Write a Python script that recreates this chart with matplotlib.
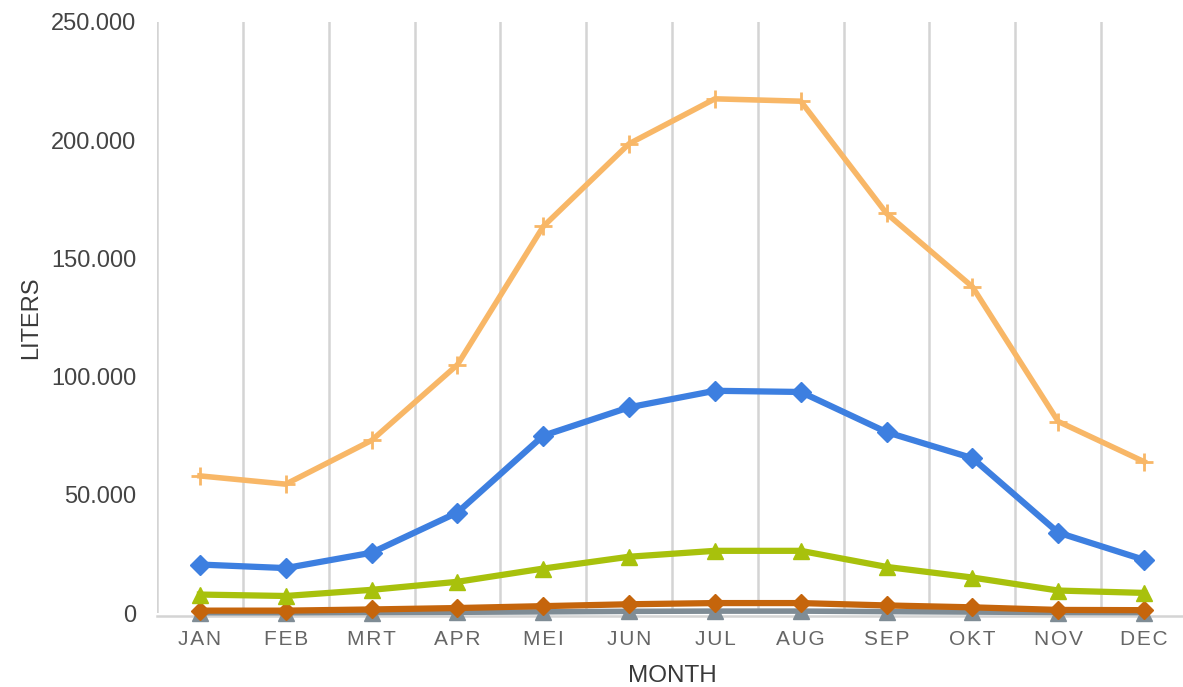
import numpy as np
import matplotlib.pyplot as plt
from matplotlib.ticker import FuncFormatter, MultipleLocator

# monthly volumes per series
months = ['JAN', 'FEB', 'MRT', 'APR', 'MEI', 'JUN', 'JUL', 'AUG', 'SEP', 'OKT', 'NOV', 'DEC']
total = [58000, 54500, 73000, 105000, 163500, 198500, 217500, 216500, 169000, 138000, 81000, 64000]
blue = [20500, 19000, 25500, 42500, 75000, 87000, 94000, 93500, 76500, 65500, 34000, 22500]
green = [7800, 7200, 9800, 13200, 18800, 23800, 26300, 26300, 19500, 15000, 9500, 8500]
brown = [1000, 1000, 1500, 2100, 2900, 3700, 4200, 4200, 3200, 2400, 1300, 1200]
grey = [100, 100, 200, 300, 500, 700, 800, 800, 600, 400, 200, 150]

plt.rcParams['font.family'] = ['Liberation Sans', 'DejaVu Sans']

fig = plt.figure(figsize=(11.83, 6.87), dpi=100)
ax = fig.add_axes([157/1183, 1 - 613/687, 1030/1183, 591/687])

x = np.arange(len(months))
ax.plot(x, grey, color='#7f8c95', lw=4, marker='^', ms=11, clip_on=False, zorder=3)
ax.plot(x, brown, color='#c5650c', lw=4.5, marker='D', ms=9, clip_on=False, zorder=4)
ax.plot(x, green, color='#a8c10c', lw=4.5, marker='^', ms=12, clip_on=False, zorder=4)
ax.plot(x, blue, color='#3d7fe0', lw=4.5, marker='D', ms=10, clip_on=False, zorder=4)
ax.plot(x, total, color='#f8b767', lw=4, marker='+', ms=13, mew=2, clip_on=False, zorder=4)

ax.set_xlim(-0.5, 11.5)
ax.set_ylim(0, 250000)
ax.yaxis.set_major_locator(MultipleLocator(50000))
ax.yaxis.set_major_formatter(FuncFormatter(lambda v, p: f'{int(v):,}'.replace(',', '.')))

# minor ticks sit between months and carry the vertical grid
ax.set_xticks(np.arange(-0.5, 12, 1), minor=True)
ax.grid(True, which='minor', axis='x', color='#d4d4d4', lw=1.8)
ax.tick_params(axis='x', which='both', length=0)
ax.set_xticks(x)
ax.set_xticklabels(['\u200a'.join(m) for m in months])
ax.tick_params(axis='x', which='major', pad=10, labelsize=15, labelcolor='#666666')
ax.tick_params(axis='y', length=0, pad=15, labelsize=17, labelcolor='#444444')

for s in ['top', 'right', 'left']:
    ax.spines[s].set_visible(False)
ax.spines['bottom'].set_color('#d4d4d4')
ax.spines['bottom'].set_linewidth(1.8)
ax.spines['bottom'].set_position(('outward', 2))

ax.set_xlabel('MONTH', fontsize=17.5, color='#3a3a3a', labelpad=12)
ax.set_ylabel('LITERS', fontsize=17, color='#3a3a3a', labelpad=6)

fig.savefig('out.png', dpi=100)
